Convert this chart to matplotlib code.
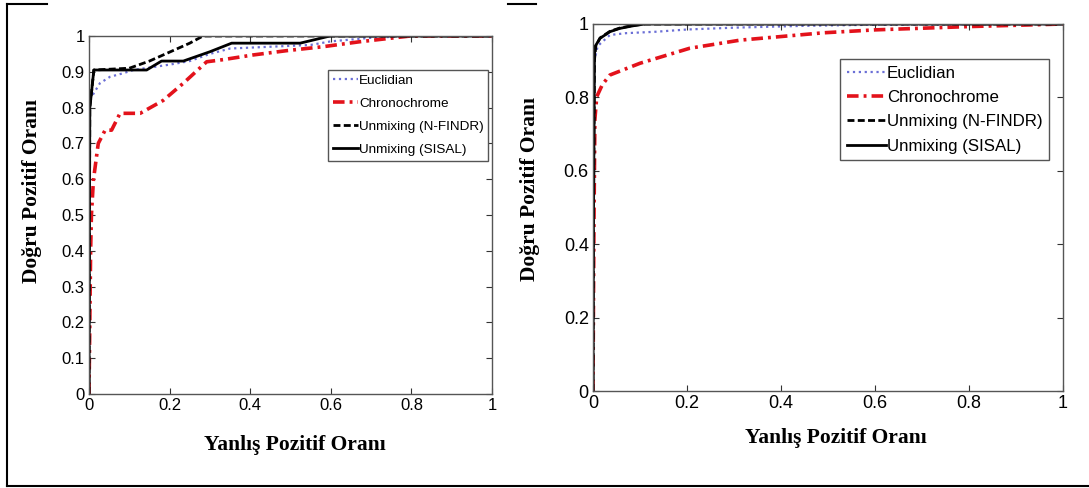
import numpy as np
import matplotlib
matplotlib.use("Agg")
from matplotlib import pyplot as plt
from matplotlib.ticker import FuncFormatter, MultipleLocator
from matplotlib.lines import Line2D

# sol grafik (veri okundu)
euc_x_L = [0, 0.001, 0.027, 0.052, 0.085, 0.11, 0.2, 0.25, 0.3, 0.35, 0.45, 0.55, 0.6, 0.65, 0.7, 0.8, 1.0]
euc_y_L = [0, 0.82, 0.868, 0.886, 0.896, 0.905, 0.92, 0.93, 0.95, 0.965, 0.97, 0.975, 0.985, 0.99, 0.995, 1.0, 1.0]
chr_x_L = [0, 0.002, 0.004, 0.006, 0.011, 0.023, 0.04, 0.056, 0.077, 0.127, 0.184, 0.234, 0.292, 0.333, 0.407, 0.49, 0.58, 0.672, 0.797, 1.0]
chr_y_L = [0, 0.2, 0.4, 0.5, 0.598, 0.70, 0.737, 0.737, 0.784, 0.784, 0.82, 0.868, 0.928, 0.934, 0.947, 0.959, 0.97, 0.984, 1.0, 1.0]
nf_x_L = [0, 0.002, 0.005, 0.012, 0.1, 0.15, 0.2, 0.25, 0.283, 1.0]
nf_y_L = [0, 0.80, 0.83, 0.905, 0.91, 0.93, 0.955, 0.98, 1.0, 1.0]
sis_x_L = [0, 0.002, 0.005, 0.012, 0.143, 0.18, 0.234, 0.30, 0.354, 0.524, 0.598, 1.0]
sis_y_L = [0, 0.80, 0.83, 0.905, 0.905, 0.93, 0.93, 0.956, 0.98, 0.98, 1.0, 1.0]

# sag grafik
euc_x_R = [0, 0.001, 0.003, 0.01, 0.036, 0.07, 0.135, 0.2, 0.3, 0.45, 0.6, 1.0]
euc_y_R = [0, 0.5, 0.9, 0.94, 0.97, 0.975, 0.979, 0.985, 0.99, 0.995, 0.998, 1.0]
chr_x_R = [0, 0.001, 0.002, 0.004, 0.008, 0.02, 0.036, 0.1, 0.206, 0.313, 0.49, 0.6, 0.8, 1.0]
chr_y_R = [0, 0.25, 0.45, 0.74, 0.802, 0.835, 0.861, 0.893, 0.934, 0.956, 0.976, 0.984, 0.993, 1.0]
nf_x_R = [0, 0.001, 0.003, 0.006, 0.015, 0.036, 0.057, 0.085, 0.11, 1.0]
nf_y_R = [0, 0.45, 0.9, 0.94, 0.962, 0.98, 0.989, 0.996, 1.0, 1.0]
sis_x_R = [0, 0.001, 0.003, 0.004, 0.015, 0.036, 0.057, 0.085, 0.11, 1.0]
sis_y_R = [0, 0.45, 0.9, 0.938, 0.961, 0.979, 0.988, 0.995, 1.0, 1.0]

etiketler = ["Euclidian", "Chronochrome", "Unmixing (N-FINDR)", "Unmixing (SISAL)"]
xlabel = "Yanlış Pozitif Oranı"
ylabel = "Doğru Pozitif Oranı"

W, H = 1089, 488
fig = plt.figure(figsize=(W / 100, H / 100), dpi=100)

def px_axes(x0, y0, x1, y1):
    return fig.add_axes([x0 / W, 1 - y1 / H, (x1 - x0) / W, (y1 - y0) / H])

axL = px_axes(89, 36, 492, 394)
axR = px_axes(593, 24, 1063, 391)

fmt = FuncFormatter(lambda v, p: "%g" % round(v, 2))

def ciz(ax, veri, ystep, tfs, lfs, leg_box, hlen, lsp, bpad):
    (ex, ey), (cx, cy), (nx, ny), (sx, sy) = veri
    ax.plot(ex, ey, color="#6b6fd6", ls=":", lw=1.6, label=etiketler[0])
    ax.plot(cx, cy, color="#e3121b", lw=2.6, dashes=(3.2, 1.4, 0.8, 1.4), label=etiketler[1])
    ax.plot(nx, ny, color="black", lw=2.0, dashes=(2.5, 1.2), label=etiketler[2])
    ax.plot(sx, sy, color="black", lw=2.0, label=etiketler[3])
    ax.set_xlim(0, 1)
    ax.set_ylim(0, 1)
    ax.xaxis.set_major_locator(MultipleLocator(0.2))
    ax.yaxis.set_major_locator(MultipleLocator(ystep))
    ax.xaxis.set_major_formatter(fmt)
    ax.yaxis.set_major_formatter(fmt)
    ax.tick_params(direction="in", length=4, width=0.8, top=True, right=True,
                   labelsize=tfs, colors="#333333", labelcolor="black", pad=3)
    for t in ax.get_xticklabels() + ax.get_yticklabels():
        t.set_fontfamily("Liberation Sans")
    for s in ax.spines.values():
        s.set_color("#555555")
        s.set_linewidth(1.0)
    leg = ax.legend(loc="upper left", bbox_to_anchor=leg_box, borderaxespad=0,
                    fancybox=False, framealpha=1, edgecolor="#555555",
                    prop={"family": "Liberation Sans", "size": lfs},
                    handlelength=hlen, handletextpad=0.05, labelspacing=lsp,
                    borderpad=bpad)
    leg.get_frame().set_linewidth(1.0)

ciz(axL, [(euc_x_L, euc_y_L), (chr_x_L, chr_y_L), (nf_x_L, nf_y_L), (sis_x_L, sis_y_L)],
    0.1, 12, 9.7, (0.593, 0.905), 1.9, 0.78, 0.35)
ciz(axR, [(euc_x_R, euc_y_R), (chr_x_R, chr_y_R), (nf_x_R, nf_y_R), (sis_x_R, sis_y_R)],
    0.2, 13, 12.2, (0.526, 0.905), 2.3, 0.55, 0.4)

baslik = {"family": "Liberation Serif", "weight": "bold", "size": 15.5}
fig.text(295 / W, 1 - 445 / H, xlabel, ha="center", va="center", **baslik)
fig.text(836 / W, 1 - 438 / H, xlabel, ha="center", va="center", **baslik)
fig.text(32 / W, 1 - 191 / H, ylabel, ha="center", va="center", rotation=90, **baslik)
fig.text(530 / W, 1 - 189 / H, ylabel, ha="center", va="center", rotation=90, **baslik)

# cerceve
def cizgi(x0, y0, x1, y1):
    fig.add_artist(Line2D([x0 / W, x1 / W], [1 - y0 / H, 1 - y1 / H],
                          transform=fig.transFigure, color="black", lw=1.5))

cizgi(7, 4, 7, 486)
cizgi(7, 486, 1089, 486)
cizgi(7, 4, 47, 4)
cizgi(508, 4, 536, 4)

fig.savefig("out.png", dpi=100)
